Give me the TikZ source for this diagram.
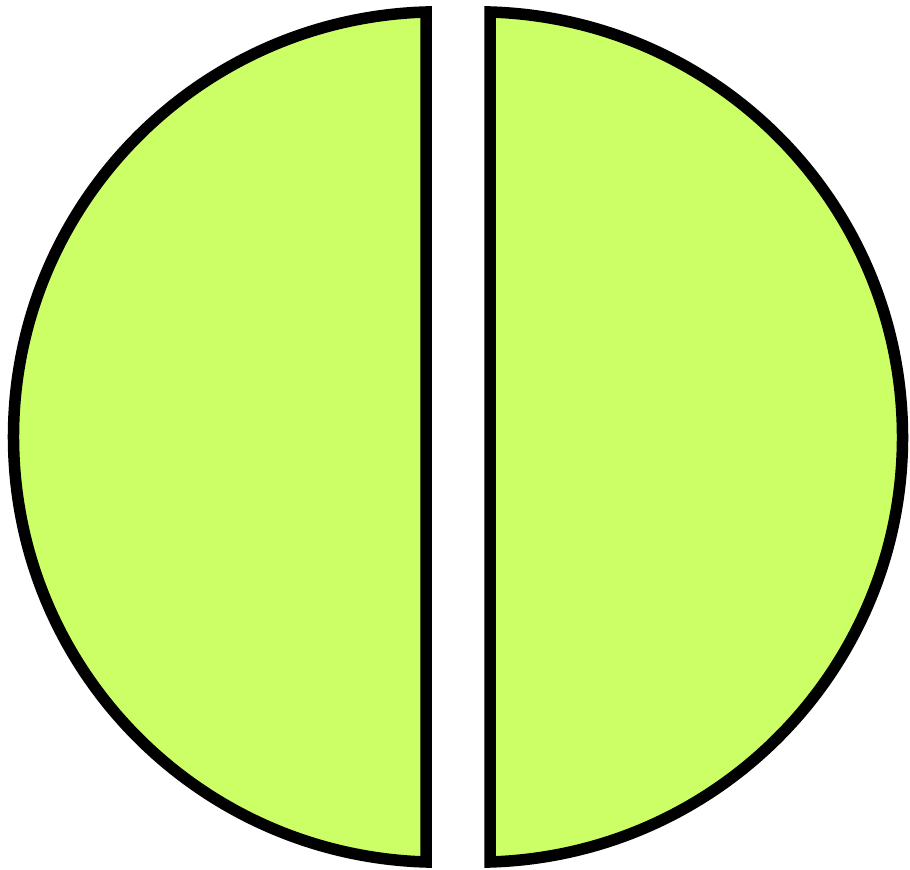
\documentclass[tikz,border=0pt]{standalone}
\definecolor{lime}{HTML}{CCFF66}
\begin{document}
\begin{tikzpicture}[x=1bp,y=1bp,
  piece/.style={draw=black,fill=lime,line width=11.5bp,line join=miter}]
\useasboundingbox (0,0) rectangle (910,870);
\draw[piece] (426,858) arc[start angle=91.71,end angle=268.29,radius=425.2bp] -- cycle;
\draw[piece] (490,8) arc[start angle=-88.29,end angle=88.29,radius=425.2bp] -- cycle;
\end{tikzpicture}
\end{document}
